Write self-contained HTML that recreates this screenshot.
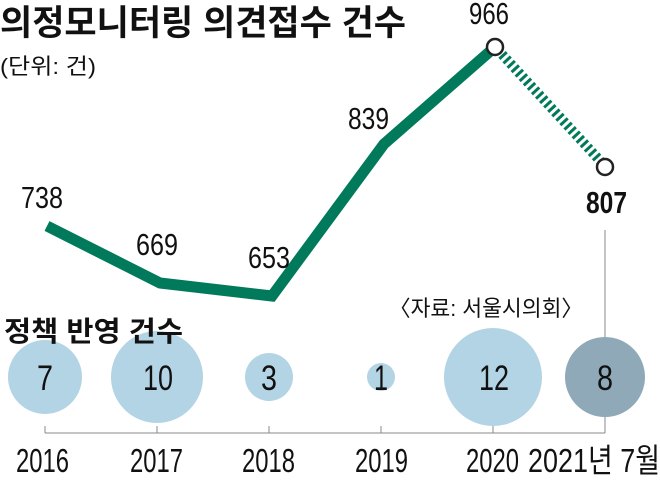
<!DOCTYPE html>
<html><head><meta charset="utf-8"><style>
body{margin:0;background:#fff}
svg text{font-family:"Liberation Sans","Noto Sans CJK KR",sans-serif;fill:#111}
</style></head><body>
<svg width="660" height="475" viewBox="0 0 660 475">
<text x="0" y="35" font-size="35" font-weight="bold" textLength="406" lengthAdjust="spacingAndGlyphs">의정모니터링 의견접수 건수</text>
<text x="0" y="74" font-size="22" textLength="96" lengthAdjust="spacingAndGlyphs">(단위: 건)</text>
<line x1="605" y1="230" x2="605" y2="433" stroke="#888" stroke-width="1"/>
<polyline points="47,226 160,283 272,296 384,144 495,47" fill="none" stroke="#007a5a" stroke-width="11" stroke-linejoin="miter"/>
<line x1="498" y1="50" x2="603" y2="164" stroke="#007a5a" stroke-width="10" stroke-dasharray="3,3"/>
<circle cx="495" cy="47" r="8" fill="#fff" stroke="#222" stroke-width="2.5"/>
<circle cx="605" cy="167" r="8" fill="#fff" stroke="#222" stroke-width="2.5"/>
<g font-size="31">
<text x="21" y="208" textLength="42" lengthAdjust="spacingAndGlyphs">738</text>
<text x="136" y="255" textLength="42" lengthAdjust="spacingAndGlyphs">669</text>
<text x="248" y="268" textLength="42" lengthAdjust="spacingAndGlyphs">653</text>
<text x="348" y="129" textLength="41" lengthAdjust="spacingAndGlyphs">839</text>
<text x="469" y="24" textLength="40" lengthAdjust="spacingAndGlyphs">966</text>
<text x="586" y="213" font-weight="bold" textLength="41" lengthAdjust="spacingAndGlyphs">807</text>
</g>
<text x="389" y="316" font-size="22" textLength="194" lengthAdjust="spacingAndGlyphs">〈자료: 서울시의회〉</text>
<g fill="#b3d4e5">
<circle cx="45" cy="377" r="37"/>
<circle cx="157" cy="377" r="46"/>
<circle cx="269" cy="377" r="24"/>
<circle cx="381" cy="377" r="14"/>
<circle cx="493" cy="377" r="49"/>
</g>
<circle cx="605" cy="377" r="40" fill="#8fa9b8"/>
<text x="4" y="341" font-size="28" font-weight="bold" textLength="179" lengthAdjust="spacingAndGlyphs">정책 반영 건수</text>
<g font-size="35">
<text x="37" y="390" textLength="16" lengthAdjust="spacingAndGlyphs">7</text>
<text x="143" y="390" textLength="30" lengthAdjust="spacingAndGlyphs">10</text>
<text x="261" y="390" textLength="16" lengthAdjust="spacingAndGlyphs">3</text>
<text x="374" y="390" textLength="14" lengthAdjust="spacingAndGlyphs">1</text>
<text x="479" y="390" textLength="30" lengthAdjust="spacingAndGlyphs">12</text>
<text x="597" y="390" textLength="16" lengthAdjust="spacingAndGlyphs">8</text>
</g>
<g stroke="#888" stroke-width="1">
<line x1="45" y1="433" x2="605" y2="433"/>
<line x1="45" y1="426" x2="45" y2="433"/>
<line x1="157" y1="426" x2="157" y2="433"/>
<line x1="269" y1="426" x2="269" y2="433"/>
<line x1="381" y1="426" x2="381" y2="433"/>
<line x1="493" y1="426" x2="493" y2="433"/>
</g>
<g font-size="33">
<text x="16" y="472" textLength="53" lengthAdjust="spacingAndGlyphs">2016</text>
<text x="130" y="472" textLength="53" lengthAdjust="spacingAndGlyphs">2017</text>
<text x="242" y="472" textLength="53" lengthAdjust="spacingAndGlyphs">2018</text>
<text x="355" y="472" textLength="53" lengthAdjust="spacingAndGlyphs">2019</text>
<text x="466" y="472" textLength="53" lengthAdjust="spacingAndGlyphs">2020</text>
<text x="528" y="472" textLength="132" lengthAdjust="spacingAndGlyphs">2021년 7월</text>
</g>
</svg>
</body></html>
